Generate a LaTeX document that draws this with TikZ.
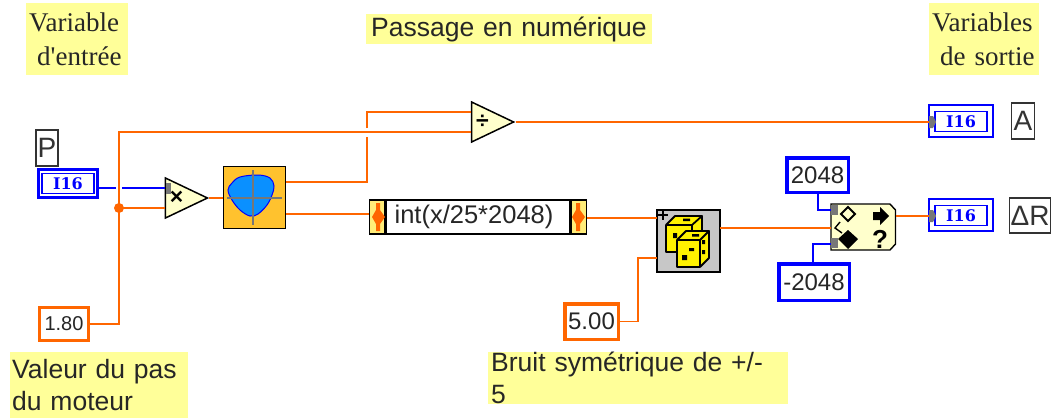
\documentclass[tikz,border=0pt]{standalone}
\usepackage{fontspec}
\setmainfont{Liberation Sans}
\newfontfamily\serifface{Liberation Serif}
\newfontfamily\slabface{DejaVu Serif}
\usetikzlibrary{shapes.geometric, positioning}
\definecolor{notey}{HTML}{FFFF99}
\definecolor{wireo}{HTML}{FF6600}
\definecolor{wireb}{HTML}{0000FF}
\definecolor{cream}{HTML}{FFFFCC}
\definecolor{vibg}{HTML}{FFC22E}
\definecolor{blob}{HTML}{0A90FF}
\definecolor{termg}{HTML}{777777}
\tikzstyle{notes} = [fill=notey,inner ysep=0pt,inner xsep=3pt,font=\fontsize{26.5}{32}\selectfont,text=black!85,align=left,anchor=north west]
\tikzstyle{notet} = [notes,font=\serifface\fontsize{27}{34}\selectfont]
\tikzstyle{wire} = [draw=wireo,line width=1.6pt]
\tikzstyle{wirei} = [draw=wireb,line width=1.6pt]
\tikzstyle{const} = [draw,fill=white,inner sep=0pt,font=\fontsize{24}{24}\selectfont,text=black!85,line width=3.5pt]
\tikzstyle{tagbox} = [draw=black!80,fill=white,inner sep=0pt,line width=1.4pt,font=\fontsize{28}{28}\selectfont,text=black!80]
\tikzstyle{numin} = [draw=wireb,fill=white,line width=3.2pt,minimum width=59pt,minimum height=28pt,inner sep=0pt]
\tikzstyle{numout} = [numin,line width=1.2pt,minimum width=64pt,minimum height=32pt]
\tikzstyle{numtxt} = [draw=wireb,line width=1.2pt,minimum width=52pt,minimum height=20pt,inner sep=0pt,text=wireb,font=\slabface\bfseries\fontsize{16}{16}\selectfont]
\tikzstyle{prim} = [isosceles triangle,isosceles triangle stretches,draw=black,fill=cream,line width=1.5pt,minimum width=40pt,minimum height=42pt,inner sep=0pt,font=\bfseries\fontsize{23}{23}\selectfont]
\tikzstyle{term} = [fill=termg,minimum width=6pt,minimum height=10pt,inner sep=0pt]
\tikzstyle{portbox} = [draw=black,fill=notey!70!vibg,line width=1.6pt,minimum width=15pt,minimum height=34pt,inner sep=0pt]
\tikzstyle{die} = [fill=yellow,draw=black,line width=1.8pt,line join=round]

\begin{document}
\begin{tikzpicture}[x=1pt,y=-1pt]
    \useasboundingbox (0,0) rectangle (1058,418);

    % notes
    \node[notet,text width=96pt,minimum height=72pt] (nin) at (26,3) {Variable\\\hspace*{8pt}d'entr\'ee};
    \node[notes,inner xsep=5pt,text width=276pt,minimum height=30pt] (nnum) at (366,14) {Passage en num\'erique};
    \node[notet,text width=104pt,minimum height=72pt] (nout) at (929,3) {Variables\\\hspace*{8pt}de sortie};
    \node[notes,inner xsep=2pt,text width=174pt,minimum height=66pt] (npas) at (10,352) {Valeur du pas\\du moteur};
    \node[notes,text width=294pt,minimum height=36pt] (nbruit) at (488,352) {Bruit sym\'etrique de +/- 5};

    % input side
    \node[tagbox,minimum width=22pt,minimum height=36pt] (tagp) at (47,148) {P};
    \node[numin] (inp) at (68,183.5) {};
    \node[numtxt] at (inp.center) {I16};
    \node[const,draw=wireo,minimum width=49pt,minimum height=33pt,font=\fontsize{20}{20}\selectfont] (pas) at (64,324) {1.80};

    \node[prim] (mul) at (176.5,198) {×};
    \node[prim] (dv) at (482.5,122) {÷};
    \node[term,minimum width=5pt,minimum height=11pt] at (168,188) {};
    \node[draw=black,fill=vibg,line width=1.4pt,minimum width=62pt,minimum height=62pt,inner sep=0pt] (vi) at (254.5,197.5) {};
    \fill[blob,draw=wireb,line width=1pt] plot[smooth cycle,tension=0.6] coordinates {(232,183) (240,177) (258,175) (270,178) (274,186) (272,195) (267,205) (258,214) (250,216) (240,210) (232,200) (228,190)};
    \draw[termg,line width=1.3pt] (253,170) -- (253,225) (227,198) -- (282,198);

    % formula node
    \node[draw=black,fill=white,line width=1.6pt,minimum width=184pt,minimum height=34pt,inner sep=0pt,font=\fontsize{25.5}{25.5}\selectfont,text=black!85] (form) at (478,217) {\hspace*{-8pt}int(x/25*2048)};
    \node[portbox,left=0pt of form] (forml) {};
    \node[portbox,right=0pt of form] (formr) {};
    \draw[black,line width=3pt] (form.north west) -- (form.south west) (form.north east) -- (form.south east);
    \fill[wireo] (372,217) -- (376,210) -- (376,203) -- (380,203) -- (380,210) -- (385,217) -- (380,224) -- (380,231) -- (376,231) -- (376,224) -- cycle;
    \fill[wireo] (572,217) -- (576,210) -- (576,203) -- (580,203) -- (580,210) -- (585,217) -- (580,224) -- (580,231) -- (576,231) -- (576,224) -- cycle;

    % noise
    \node[draw=black,fill=black!22,line width=1.4pt,minimum width=63pt,minimum height=62pt,inner sep=0pt] (noise) at (688.5,241) {};
    \draw[die] (666,225) rectangle (692,252) (666,225) -- (675,216) -- (702,216) -- (692,225) (692,225) -- (702,216) -- (702,245) -- (692,252);
    \draw[die] (677,240) rectangle (700,267) (677,240) -- (686,231) -- (709,231) -- (700,240) (700,240) -- (709,231) -- (709,258) -- (700,267);
    \fill[black] (682,255) rectangle (687,260) (689,248) rectangle (694,251) (673,233) rectangle (677,238) (702,240) rectangle (705,244) (702,250) rectangle (705,254) (683,218.5) rectangle (690,221) (692,234) rectangle (699,236.5);
    \draw[line width=1.2pt] (658,215) -- (668,215) (663,210) -- (663,220);
    \node[const,draw=wireo,minimum width=53.5pt,minimum height=35.5pt] (bruit) at (591.5,321.5) {5.00};

    % limit
    \node[const,draw=wireb,minimum width=61.5pt,minimum height=34.5pt] (hi) at (817.5,175) {2048};
    \node[const,draw=wireb,minimum width=70.5pt,minimum height=36.5pt] (lo) at (814,282) {-2048};
    \draw[draw=black,fill=cream,line width=1.4pt] (831,204) -- (890,204) -- (895.5,210) -- (895.5,244) -- (890,250) -- (831,250) -- cycle;
    \node[term,minimum width=7pt] at (834.5,210) {};
    \node[term,minimum width=7pt] at (834.5,243) {};
    \draw[black,line width=1.8pt] (848,207) -- (855,214) -- (848,221) -- (841,214) -- cycle;
    \fill[black] (848,230) -- (858,239) -- (848,249) -- (838,239) -- cycle;
    \draw[black,line width=1.4pt] (840,222) -- (835,228) -- (842,233);
    \fill[black] (873,212) -- (880,212) -- (880,207) -- (889,216) -- (880,225) -- (880,220) -- (873,220) -- cycle;
    \node[font=\bfseries\fontsize{26}{26}\selectfont] (qm) at (880,239) {?};

    % outputs
    \node[numout] (outa) at (961,121) {};
    \node[numtxt] at (961,121.5) {I16};
    \node[numout] (outr) at (961,215) {};
    \node[numtxt] at (961,215.5) {I16};
    \node[tagbox,minimum width=23pt,minimum height=36pt] (taga) at (1023,121) {A};
    \node[tagbox,minimum width=41pt,minimum height=35pt] (tagr) at (1030,215.5) {ΔR};

    % wire ends
    \coordinate (muli) at (165,188);
    \coordinate (mulj) at (165,208);
    \coordinate (dvi) at (471,112);
    \coordinate (dvj) at (471,132);
    \coordinate (gapa) at (116,188);
    \coordinate (gapb) at (122,188);
    \coordinate (gapc) at (367,137);
    \coordinate (gapd) at (367,128);
    \coordinate (bus) at (119,132);
    \coordinate (junc) at (119,208);
    \coordinate (viu) at (286,182);
    \coordinate (vid) at (286,214);
    \coordinate (noisei) at (657,218);
    \coordinate (noisej) at (657,258);
    \coordinate (noisek) at (638,258);
    \coordinate (noiseo) at (720,228);
    \coordinate (hidown) at (818,194);
    \coordinate (loup) at (813,262);
    \coordinate (cmpa) at (831,210);
    \coordinate (cmpb) at (831,244);
    \coordinate (cmpc) at (831,228);
    \coordinate (cmpo) at (896,216);
    \coordinate (outai) at (929,122);
    \coordinate (outri) at (929,216);

    \draw[wirei] (inp.east |- muli) -- (gapa);
    \draw[wirei] (gapb) -- (muli);
    \draw[wire] (pas.east) -| (bus) -- (dvj);
    \fill[wireo] (junc) circle (5pt);
    \draw[wire] (junc) -- (mulj);
    \draw[wire] (mul.apex) -- (mul.apex -| vi.west);
    \draw[wire] (viu) -| (gapc);
    \draw[wire] (gapd) |- (dvi);
    \draw[wire] (vid) -- (vid -| forml.west);
    \draw[wire] (formr.east |- noisei) -- (noisei);
    \draw[wire] (dv.apex) -- (outai);
    \draw[wire] (bruit.east) -| (noisek) -- (noisej);
    \draw[wire] (noiseo) -- (cmpc);
    \draw[wirei] (hidown) |- (cmpa);
    \draw[wirei] (loup) |- (cmpb);
    \draw[wire] (cmpo) -- (outri);

    % terminals over the wire ends
    \fill[termg] (929,116) -- (933,116) -- (936,122) -- (933,128) -- (929,128) -- cycle;
    \fill[termg] (929,210) -- (933,210) -- (936,216) -- (933,222) -- (929,222) -- cycle;
\end{tikzpicture}
\end{document}
